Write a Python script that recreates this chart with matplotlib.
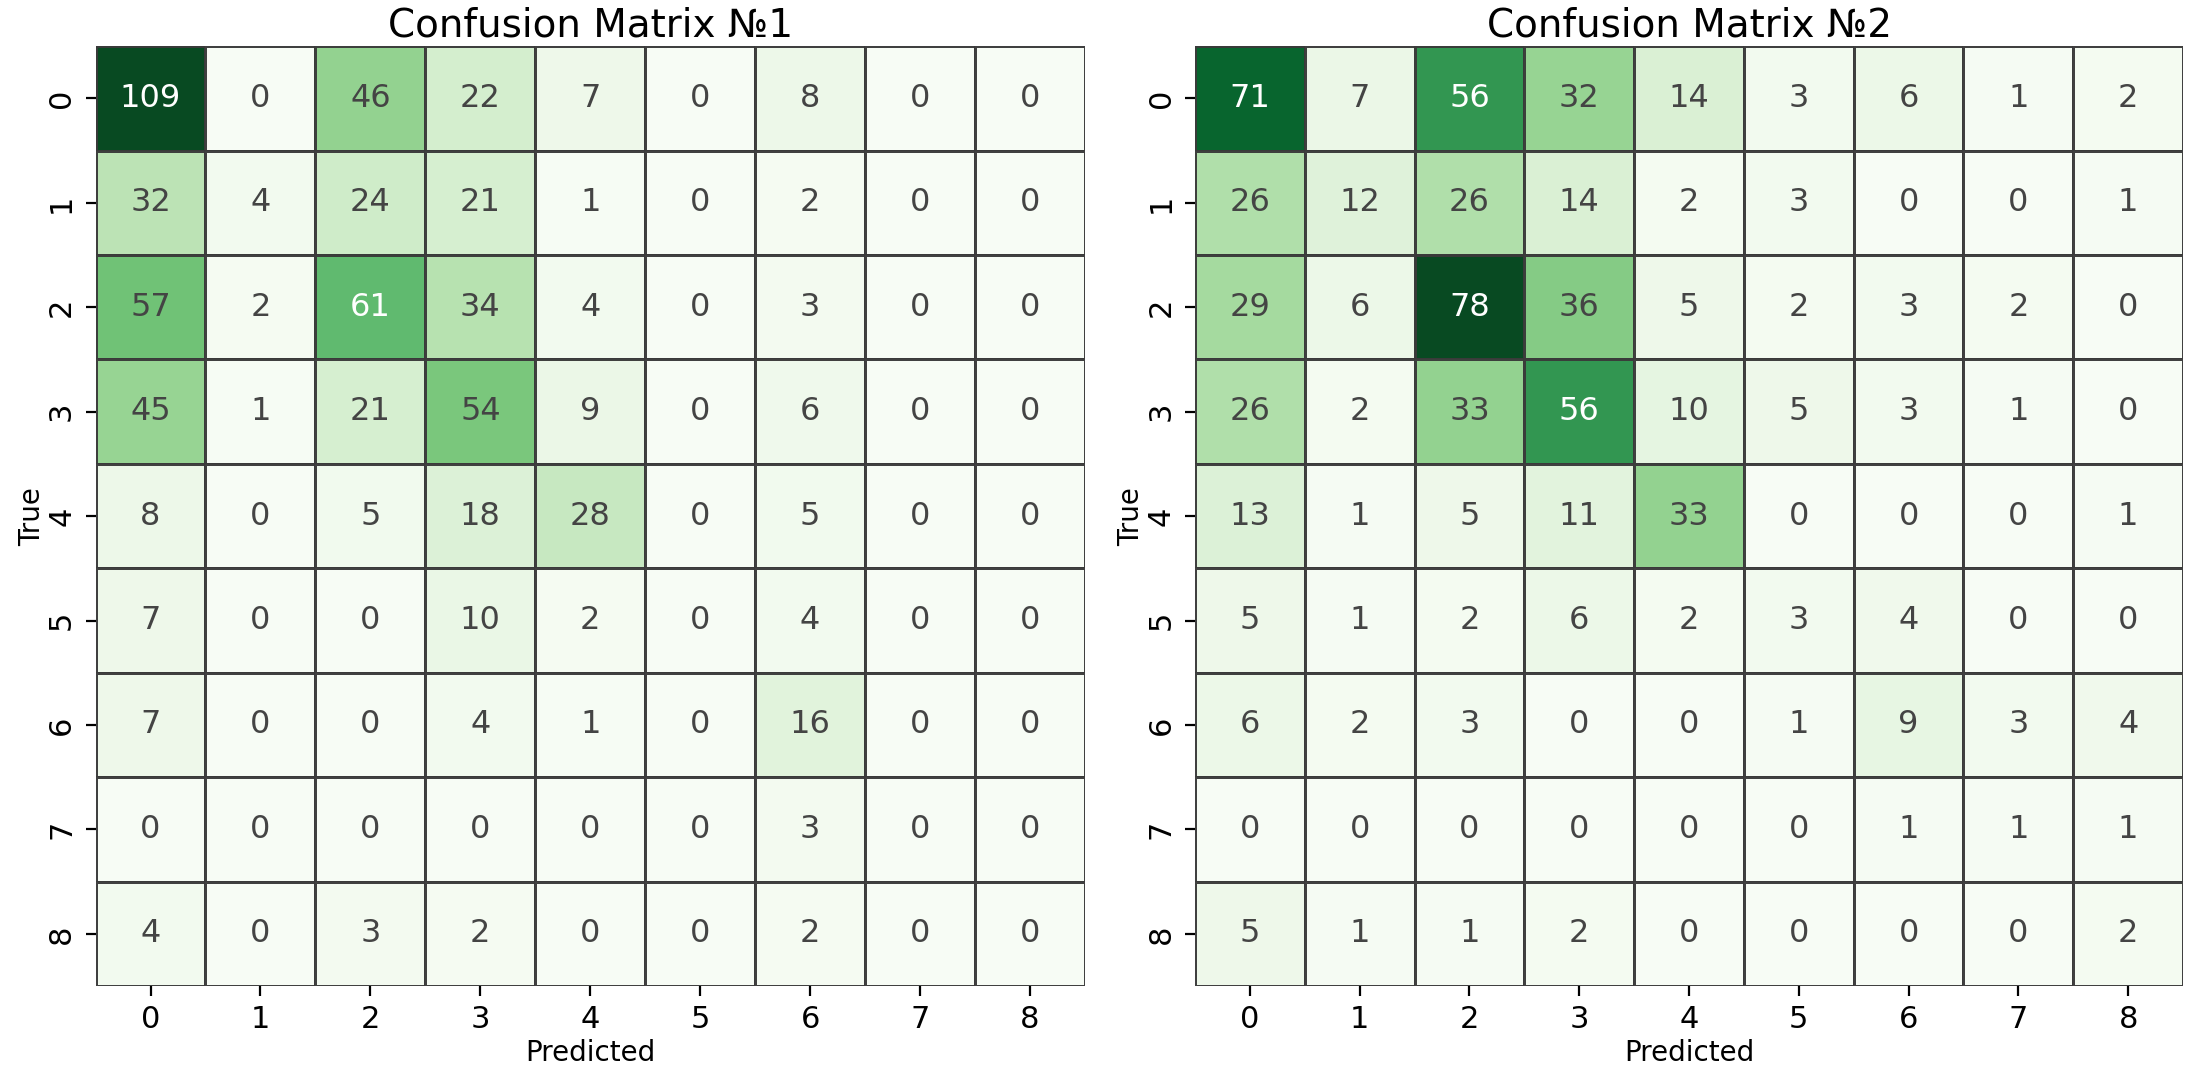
import numpy as np
import matplotlib
matplotlib.use("Agg")
import matplotlib.pyplot as plt
import seaborn as sns

labels = [str(i) for i in range(9)]

cm1 = [
    [109, 0, 46, 22, 7, 0, 8, 0, 0],
    [32, 4, 24, 21, 1, 0, 2, 0, 0],
    [57, 2, 61, 34, 4, 0, 3, 0, 0],
    [45, 1, 21, 54, 9, 0, 6, 0, 0],
    [8, 0, 5, 18, 28, 0, 5, 0, 0],
    [7, 0, 0, 10, 2, 0, 4, 0, 0],
    [7, 0, 0, 4, 1, 0, 16, 0, 0],
    [0, 0, 0, 0, 0, 0, 3, 0, 0],
    [4, 0, 3, 2, 0, 0, 2, 0, 0],
]

cm2 = [
    [71, 7, 56, 32, 14, 3, 6, 1, 2],
    [26, 12, 26, 14, 2, 3, 0, 0, 1],
    [29, 6, 78, 36, 5, 2, 3, 2, 0],
    [26, 2, 33, 56, 10, 5, 3, 1, 0],
    [13, 1, 5, 11, 33, 0, 0, 0, 1],
    [5, 1, 2, 6, 2, 3, 4, 0, 0],
    [6, 2, 3, 0, 0, 1, 9, 3, 4],
    [0, 0, 0, 0, 0, 0, 1, 1, 1],
    [5, 1, 1, 2, 0, 0, 0, 0, 2],
]

titles = ["Confusion Matrix №1", "Confusion Matrix №2"]

plt.rcParams['font.family'] = ['DejaVu Sans']

fig = plt.figure(figsize=(11.01, 5.375), dpi=200)
positions = [[0.0434, 0.0828, 0.4493, 0.8742], [0.5427, 0.0828, 0.4487, 0.8742]]

for pos, cm, title in zip(positions, [cm1, cm2], titles):
    ax = fig.add_axes(pos)
    sns.heatmap(np.array(cm), ax=ax, cmap="Greens", annot=True, fmt="d",
                cbar=False, linewidths=0.5, linecolor="#3a3a3a",
                xticklabels=labels, yticklabels=labels, alpha=0.97,
                annot_kws={"fontsize": 11.5})
    for t in ax.texts:
        r, g, b, _ = matplotlib.colors.to_rgba(t.get_color())
        if r < 0.5:
            t.set_color("#444444")
    ax.set_title(title, fontsize=14, pad=3.5)
    ax.set_xlabel("Predicted", fontsize=10, labelpad=1.5)
    ax.set_ylabel("True", fontsize=10, labelpad=0.5)
    ax.tick_params(labelsize=11)
    plt.setp(ax.get_yticklabels(), rotation=90, va="center")
    plt.setp(ax.get_xticklabels(), rotation=0)

fig.savefig("out.png", dpi=200)
